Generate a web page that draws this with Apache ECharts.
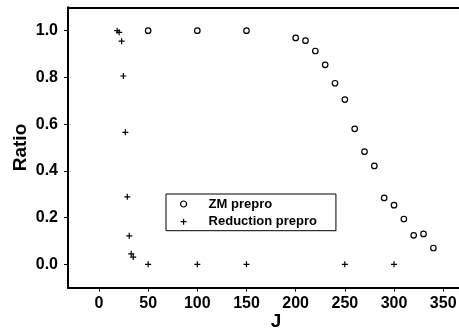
<!DOCTYPE html>
<html>
<head>
<meta charset="utf-8">
<script src="https://cdn.jsdelivr.net/npm/echarts@6/dist/echarts.min.js"></script>
<style>html,body{margin:0;padding:0;background:#fff}#c{width:459px;height:332px}</style>
</head>
<body>
<div id="c"></div>
<script>
const zmJ = [50, 100, 150, 200, 210, 220, 230, 240, 250, 260, 270, 280, 290, 300, 310, 320, 330, 340];
const zmRatio = [1.0, 1.0, 1.0, 0.969, 0.957, 0.913, 0.854, 0.775, 0.705, 0.580, 0.482, 0.421, 0.284, 0.253, 0.194, 0.124, 0.130, 0.070];
const redJ = [18.5, 20.5, 23, 24.8, 26.8, 28.8, 30.8, 32.8, 34.8, 50, 100, 150, 250, 300];
const redRatio = [1.0, 0.993, 0.955, 0.806, 0.565, 0.289, 0.122, 0.045, 0.031, 0.0, 0.0, 0.0, 0.0, 0.0];
const xTicks = [0, 50, 100, 150, 200, 250, 300, 350];
const yTicks = [0.0, 0.2, 0.4, 0.6, 0.8, 1.0];
const seriesNames = ['ZM prepro', 'Reduction prepro'];

const font = 'Liberation Sans, Arial, Helvetica, sans-serif';
const plusPath = 'path://M-0.2,-1 L0.2,-1 L0.2,-0.2 L1,-0.2 L1,0.2 L0.2,0.2 L0.2,1 L-0.2,1 L-0.2,0.2 L-1,0.2 L-1,-0.2 L-0.2,-0.2 Z';

const chart = echarts.init(document.getElementById('c'), null, {renderer: 'canvas'});
chart.setOption({
  animation: false,
  backgroundColor: '#fff',
  grid: {left: 68, top: 7.3, width: 416, height: 280.4, containLabel: false, outerBoundsMode: 'none'},
  xAxis: [{
    type: 'value', min: -31.5, max: 391.5,
    axisLine: {show: true, onZero: false, lineStyle: {color: '#000', width: 2}},
    axisTick: {show: true, customValues: xTicks, length: 4, lineStyle: {color: '#000', width: 1}},
    axisLabel: {customValues: xTicks, color: '#000', fontSize: 16, fontWeight: 'bold', fontFamily: font, margin: 8},
    splitLine: {show: false},
    name: 'J', nameLocation: 'middle', nameGap: 25, nameMoveOverlap: false,
    nameTextStyle: {color: '#000', fontSize: 19, fontWeight: 'bold', fontFamily: font}
  }, {
    type: 'value', position: 'top', min: -31.5, max: 391.5,
    axisLine: {show: true, onZero: false, lineStyle: {color: '#000', width: 2}},
    axisTick: {show: false}, axisLabel: {show: false}, splitLine: {show: false}
  }],
  yAxis: {
    type: 'value', min: -0.1, max: 1.1,
    axisLine: {show: true, onZero: false, lineStyle: {color: '#000', width: 2}},
    axisTick: {show: true, customValues: yTicks, length: 4, lineStyle: {color: '#000', width: 1}},
    axisLabel: {customValues: yTicks, color: '#000', fontSize: 16, fontWeight: 'bold', fontFamily: font, margin: 10,
      formatter: v => v.toFixed(1)},
    splitLine: {show: false},
    name: 'Ratio', nameLocation: 'middle', nameGap: 38, nameMoveOverlap: false,
    nameTextStyle: {color: '#000', fontSize: 19, fontWeight: 'bold', fontFamily: font}
  },
  legend: {
    orient: 'vertical', left: 166, top: 194,
    padding: [3, 19, 2, 14],
    itemWidth: 6, itemHeight: 6, itemGap: 3.7,
    borderColor: '#000', borderWidth: 1, backgroundColor: '#fff',
    textStyle: {color: '#000', fontSize: 13, fontWeight: 'bold', fontFamily: font, lineHeight: 14, padding: [0, 0, 0, 17]},
    data: [
      {name: seriesNames[0], icon: 'circle', itemStyle: {color: '#fff', borderColor: '#000', borderWidth: 1.2}},
      {name: seriesNames[1], icon: plusPath, itemStyle: {color: '#000', borderWidth: 0}}
    ]
  },
  series: [{
    name: seriesNames[0], type: 'scatter', symbol: 'circle', symbolSize: 5.5,
    itemStyle: {color: '#fff', borderColor: '#000', borderWidth: 1.2, opacity: 1},
    data: zmJ.map((j, i) => [j, zmRatio[i]])
  }, {
    name: seriesNames[1], type: 'scatter', symbol: plusPath, symbolSize: 6,
    itemStyle: {color: '#000', borderWidth: 0, opacity: 1},
    data: redJ.map((j, i) => [j, redRatio[i]])
  }]
});
</script>
</body>
</html>
